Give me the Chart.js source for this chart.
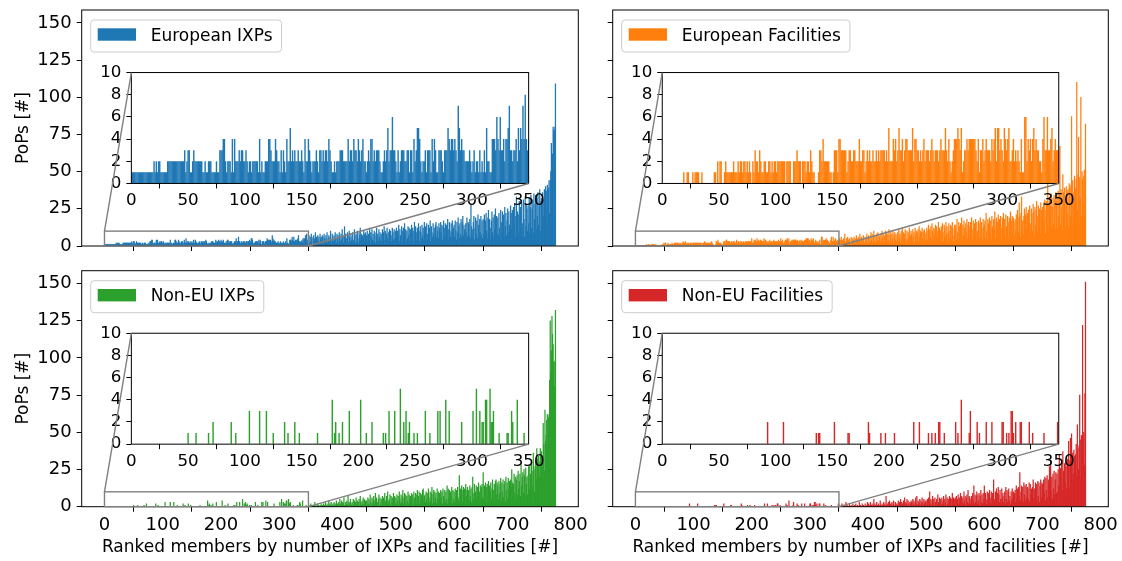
<!DOCTYPE html>
<html>
<head>
<meta charset="utf-8">
<script src="https://cdn.jsdelivr.net/npm/chart.js@4.4.0/dist/chart.umd.min.js"></script>
<style>
  html, body { margin: 0; padding: 0; background: #fff; }
  #wrap { position: relative; width: 1122px; height: 561px; overflow: hidden; }
  #wrap canvas { position: absolute; }
</style>
</head>
<body>
<div id="wrap"></div>
<script>
// ---- data -------------------------------------------------------------
const N_MEMBERS = 775;
const HEAD_LEN = 350;               // part shown in the zoomed inset
const mainXTicks = [0, 100, 200, 300, 400, 500, 600, 700, 800];
const mainYTicks = [0, 25, 50, 75, 100, 125, 150];
const insetXTicks = [0, 50, 100, 150, 200, 250, 300, 350];
const insetYTicks = [0, 2, 4, 6, 8, 10];
const xTitle = 'Ranked members by number of IXPs and facilities [#]';
const yTitle = 'PoPs [#]';

// ranks 0..349, one digit per member, groups of ten
const euIxpHead =
  '1111111111 1111111111 2121221111 1122222222 2222222312 3311232222 2221121122 ' +
  '2111121133 3442122214 1422232332 2321221222 2214121122 2443222432 2131321422 ' +
  '5232322322 3214224321 2223213323 2332432112 1222333222 2423324332 4323422123 ' +
  '2442323332 1123235233 6332131233 3223313314 2355421223 1333142431 1333213335 ' +
  '4344343275 3433222232 1231221312 1315221144 4364363342 4457332334 2535474843';
const euIxpTail = [
  4,7,2,6,3,8,5,1,6,7,3,5,9,2,6,4,7,3,6,2,8,5,6,3,7,
  6,2,8,5,3,7,4,9,2,5,7,3,6,10,4,2,8,6,3,7,4,9,5,2,8,
  5,7,2,9,6,3,8,4,11,6,2,7,13,4,8,5,3,9,7,2,10,6,3,8,4,
  6,9,3,4,11,7,2,8,3,10,5,2,9,7,12,4,8,3,7,5,10,8,2,9,6,
  7,10,3,8,5,12,2,9,6,11,4,8,3,10,7,2,9,12,5,8,3,11,6,9,4,
  8,3,11,6,9,13,4,10,2,8,12,5,9,3,11,6,10,7,3,12,9,4,11,5,10,
  9,12,4,10,6,14,3,11,7,5,13,10,3,12,6,15,8,11,4,10,5,13,7,12,3,
  11,5,14,8,12,3,10,16,6,13,9,4,12,7,15,10,3,13,9,5,14,7,12,4,16,
  10,13,4,15,8,5,14,7,12,17,3,13,9,6,15,8,12,4,14,16,6,13,10,5,15,
  12,5,16,9,14,4,13,17,7,12,15,5,14,8,18,11,4,16,10,6,15,9,17,5,12,
  14,6,17,10,4,16,9,19,13,5,15,8,18,6,16,20,7,14,11,4,15,9,19,6,16,
  15,7,18,5,28,13,6,11,16,20,4,12,19,8,17,5,21,14,6,18,9,20,7,17,5,
  18,8,21,6,17,22,10,5,19,24,7,18,12,4,17,23,9,19,6,21,11,25,5,20,8,
  19,7,22,12,5,24,16,8,23,10,21,6,26,13,22,7,17,25,9,23,14,6,27,11,22,
  24,9,26,14,28,6,20,33,12,23,8,21,30,11,26,7,29,15,10,31,18,6,33,13,28,
  25,10,27,15,32,8,26,34,12,25,31,9,35,18,28,34,11,32,20,36,14,27,38,10,30,
  32,12,36,20,31,38,14,40,25,37,41,16,39,44,22,44,50,69,30,62,80,78,77,80,109
];

const euFacHead =
  '0000000000 0000000001 0011000101 1110010000 0000001102 0220012111 1112111212 ' +
  '2122121210 2132213211 2211221212 2122222220 2222002223 2220222122 1321100013 ' +
  '3242222211 0133314433 3331233223 3222422331 2323223223 2323333232 5222434235 ' +
  '3342344333 3524433232 3423332343 2333234333 5324212344 4543512334 3444444324 ' +
  '1334234333 2434525534 3254345223 4232321411 6624342453 4332214633 6334523433';
const euFacTail = [
  3,5,1,4,6,2,4,1,5,3,8,2,3,5,1,6,4,2,5,3,1,6,2,5,3,
  4,6,2,5,1,7,3,5,2,6,4,8,2,5,6,1,4,7,3,2,6,4,5,8,2,
  5,7,2,6,3,9,4,8,2,6,10,3,7,2,6,8,3,9,4,7,6,2,8,4,10,
  6,8,3,7,2,10,5,9,3,8,4,11,2,7,9,3,8,5,10,2,7,9,4,8,3,
  7,9,3,11,5,8,2,10,6,12,4,9,3,8,11,5,2,10,4,9,6,12,3,7,10,
  8,3,11,6,9,2,12,7,10,4,9,11,3,13,6,10,2,9,12,5,10,3,11,8,4,
  9,12,4,10,14,3,11,6,13,5,15,10,3,12,7,11,14,4,13,6,10,16,3,12,8,
  10,13,4,15,9,3,14,12,6,16,8,13,3,9,15,5,10,14,4,13,16,7,3,12,14,
  11,14,4,18,9,3,16,13,6,15,8,19,4,14,7,17,12,3,15,9,18,5,14,16,6,
  13,16,5,19,11,4,17,8,15,12,18,3,16,10,6,17,15,5,19,9,16,12,4,18,13,
  14,17,5,22,10,4,18,15,7,19,12,17,4,20,13,6,18,11,23,5,17,19,8,16,21,
  15,18,6,20,12,4,19,16,22,8,18,5,21,13,7,20,16,5,19,10,23,6,17,20,9,
  19,16,7,18,10,21,5,24,19,9,29,20,6,22,33,12,17,8,20,25,6,21,26,11,22,
  20,24,7,27,15,8,25,22,10,28,23,6,26,14,24,30,9,20,27,12,25,8,29,24,11,
  26,10,29,18,31,8,24,30,14,42,28,9,33,20,27,35,12,26,32,15,34,31,11,36,30,
  33,12,37,20,35,67,14,38,26,10,48,36,18,39,30,13,40,37,22,38,12,42,39,20,41,
  87,15,44,30,36,47,18,39,45,110,24,48,73,16,46,32,100,20,50,45,28,47,51,22,82
];

// ranks 0..349 are mostly empty: [rank, PoPs]
const nonEuIxpHeadSpikes = [
  [50,1],[57,1],[68,1],[72,2],[88,2],[92,1],[104,3],[113,3],[119,3],[125,1],
  [135,2],[138,1],[144,2],[148,1],[164,1],[177,4],[179,1],[180,2],[183,1],[186,2],
  [192,3],[202,4],[207,1],[212,2],[222,1],[224,1],[227,3],[232,3],[237,5],[240,2],
  [242,3],[244,1],[245,2],[249,1],[252,1],[259,3],[263,1],[270,3],[272,3],[277,4],
  [280,3],[291,2],[301,3],[304,5],[307,3],[309,2],[310,2],[312,4],[313,4],[316,5],
  [317,2],[318,2],[319,3],[324,1],[331,1],[332,1],[335,3],[336,2],[340,4],[346,1]
];
const nonEuIxpTail = [
  0,1,0,0,2,0,1,0,0,1,0,3,0,1,0,0,2,1,0,0,1,0,2,0,1,
  0,2,1,0,3,1,0,2,0,1,4,0,2,1,3,0,1,2,0,3,1,2,0,4,1,
  2,0,3,1,5,2,0,4,1,3,2,6,1,0,3,2,4,1,7,2,3,0,5,2,1,
  3,1,5,0,4,0,3,6,1,4,1,3,5,0,7,3,1,4,2,6,0,5,2,4,1,
  4,1,6,2,5,1,8,3,0,6,2,5,7,1,4,9,2,6,1,3,5,8,0,6,2,
  5,1,7,3,6,2,9,4,1,7,3,10,2,4,5,8,1,7,3,6,2,9,3,7,1,
  6,2,8,4,7,1,10,5,2,8,3,7,11,2,6,9,3,8,1,7,4,10,2,8,5,
  7,2,9,5,8,1,10,6,3,9,2,8,11,4,7,10,2,9,5,8,3,11,12,4,7,
  8,3,10,5,9,2,12,6,3,10,4,9,13,2,8,11,3,10,6,9,2,12,5,10,3,
  9,3,11,6,10,2,12,7,4,11,3,10,5,14,2,12,6,11,3,10,7,13,2,11,5,
  10,3,12,7,11,2,13,6,4,21,3,12,8,14,3,11,13,5,12,2,15,7,11,13,4,
  11,4,14,7,12,3,13,20,5,9,15,3,10,14,6,13,2,16,8,10,14,4,13,15,6,
  23,5,14,9,16,3,13,15,6,17,4,14,10,16,5,12,18,7,11,15,3,17,18,8,16,
  14,5,17,9,15,19,4,16,10,18,6,15,17,3,20,11,16,5,19,12,17,6,18,13,25,
  16,6,15,22,9,20,5,18,21,8,24,12,17,22,7,28,14,20,23,9,25,21,6,26,15,
  20,8,21,27,12,28,22,9,29,24,14,36,27,10,25,31,18,39,32,12,34,30,20,39,35,
  37,18,34,56,42,24,65,44,48,58,62,40,60,62,85,125,90,105,128,116,109,97,81,98,132
];

const nonEuFacHeadSpikes = [
  [93,2],[107,2],[136,1],[138,1],[139,1],[152,2],[164,1],[165,1],[182,2],[183,1],
  [193,1],[197,1],[205,1],[222,2],[227,2],[235,1],[238,1],[241,1],[244,2],[245,2],
  [249,1],[259,2],[261,1],[264,4],[271,1],[272,3],[278,2],[280,1],[286,2],[291,2],
  [300,2],[301,2],[304,1],[306,1],[308,3],[309,3],[310,1],[312,2],[316,2],[317,2],
  [324,2],[327,1],[337,1],[349,2]
];
const nonEuFacTail = [
  0,1,0,0,0,2,0,0,1,0,0,0,3,0,1,0,0,0,2,0,0,1,0,0,2,
  0,0,1,0,2,0,0,1,0,0,3,0,1,0,0,2,0,1,0,0,2,0,0,1,3,
  0,2,1,0,3,0,1,2,0,1,5,0,2,1,0,3,1,0,2,1,0,4,1,0,2,
  1,0,3,1,2,0,7,1,2,0,3,1,4,0,2,1,3,0,2,4,1,0,3,2,1,
  2,1,4,0,3,2,5,1,3,2,0,4,2,6,1,3,2,5,1,4,2,0,3,2,4,
  3,1,5,2,4,1,3,6,2,7,1,4,2,3,5,1,4,2,6,3,1,5,2,4,3,
  4,1,5,2,6,0,10,2,5,1,4,7,2,5,0,6,3,1,5,2,8,3,1,6,2,
  5,1,6,2,4,7,1,5,3,8,0,6,2,5,1,7,3,6,1,5,9,2,6,1,5,
  6,2,7,1,5,8,2,6,3,9,1,7,3,6,2,10,4,7,1,6,8,3,11,2,7,
  6,2,5,7,1,9,4,14,2,8,3,7,10,2,8,4,9,1,7,11,3,8,2,9,5,
  14,3,9,5,2,10,4,9,3,11,6,2,10,4,9,2,18,5,3,10,6,12,2,9,13,
  8,3,11,5,2,12,6,9,3,7,10,2,13,5,11,3,10,12,4,7,2,10,5,12,4,
  10,4,9,11,3,14,6,12,2,13,7,23,4,10,14,5,13,3,16,8,14,4,15,6,13,
  12,5,16,3,15,8,12,4,13,18,6,12,3,16,9,15,4,17,7,16,3,14,18,6,16,
  15,5,18,9,20,4,19,11,21,6,18,16,27,7,31,10,20,5,22,12,24,8,18,23,9,
  22,10,25,14,35,8,26,18,28,11,37,24,9,29,16,30,12,27,32,15,44,31,13,46,20,
  49,18,36,22,38,34,15,35,42,20,55,39,25,41,75,45,19,48,30,122,47,50,28,76,151
];

// ---- helpers ------------------------------------------------------------
const fromDigits = s => s.replace(/\s/g, '').split('').map(Number);
function fromSpikes(list) {
  const a = new Array(HEAD_LEN).fill(0);
  list.forEach(([i, v]) => { a[i] = v; });
  return a;
}
function series(name, head, tail) {
  const all = head.concat(tail);
  if (all.length !== N_MEMBERS) throw new Error(name + ' has ' + all.length + ' values');
  return all.map((v, i) => ({ x: i, y: v }));
}

const panels = [
  { label: 'European IXPs',       color: '#1f77b4', col: 'left',  row: 'top',
    data: series('euIxp', fromDigits(euIxpHead), euIxpTail) },
  { label: 'European Facilities', color: '#ff7f0e', col: 'right', row: 'top',
    data: series('euFac', fromDigits(euFacHead), euFacTail) },
  { label: 'Non-EU IXPs',         color: '#2ca02c', col: 'left',  row: 'bottom',
    data: series('nonEuIxp', fromSpikes(nonEuIxpHeadSpikes), nonEuIxpTail) },
  { label: 'Non-EU Facilities',   color: '#d62728', col: 'right', row: 'bottom',
    data: series('nonEuFac', fromSpikes(nonEuFacHeadSpikes), nonEuFacTail) }
];

// ---- layout (page pixels) ----------------------------------------------
const W = 1122, H = 561;
const M = 40;   // every canvas overhangs the page by M so label overflow never moves the plot area
const CW = W + 2 * M, CH = H + 2 * M;
const PANEL_X = { left: [81.7, 578.3], right: [612.7, 1108.3] };
const PANEL_Y = { top: [10, 246], bottom: [270.7, 506.7] };
const INSET = { x0: 0.1, x1: 0.9, y0: 0.265, y1: 0.735 };   // axes fractions

Chart.defaults.font.family = "'DejaVu Sans', sans-serif";
Chart.defaults.color = '#000';

function fixedTicks(list) {
  return axis => { axis.ticks = list.map(v => ({ value: v })); };
}

const frameAndLegend = {
  id: 'frameAndLegend',
  afterDraw(chart) {
    const { ctx, chartArea: a } = chart;
    const ds = chart.data.datasets[0];
    ctx.save();
    ctx.strokeStyle = '#000';
    ctx.lineWidth = 1;
    ctx.strokeRect(a.left, a.top, a.right - a.left, a.bottom - a.top);

    ctx.font = "17px 'DejaVu Sans'";
    const tw = ctx.measureText(ds.label).width;
    const x = a.left + 9, y = a.top + 10, w = 60 + tw + 9, h = 32;
    ctx.beginPath();
    ctx.roundRect(x, y, w, h, 3.5);
    ctx.fillStyle = 'rgba(255,255,255,0.8)';
    ctx.fill();
    ctx.strokeStyle = '#cccccc';
    ctx.stroke();
    ctx.fillStyle = ds.backgroundColor;
    ctx.fillRect(x + 7, y + 8.3, 38.3, 12.4);
    ctx.fillStyle = '#000';
    ctx.textBaseline = 'alphabetic';
    ctx.fillText(ds.label, x + 60, y + 20.7);
    ctx.restore();
  }
};

function insetDecor(main) {
  return {
    id: 'insetDecor',
    beforeDraw(chart) {
      const { ctx, chartArea: a } = chart;
      ctx.save();
      ctx.fillStyle = '#fff';
      ctx.fillRect(a.left, a.top, a.right - a.left, a.bottom - a.top);
      ctx.restore();
    },
    afterDraw(chart) {
      const { ctx, chartArea: a } = chart;
      const mx = main.scales.x, my = main.scales.y;
      const rx0 = mx.getPixelForValue(0), rx1 = mx.getPixelForValue(HEAD_LEN);
      const ry0 = my.getPixelForValue(0), ry1 = my.getPixelForValue(10);
      ctx.save();
      ctx.strokeStyle = '#000';
      ctx.lineWidth = 1;
      ctx.strokeRect(a.left, a.top, a.right - a.left, a.bottom - a.top);
      ctx.strokeStyle = '#808080';
      ctx.lineWidth = 1.4;
      ctx.strokeRect(rx0, ry1, rx1 - rx0, ry0 - ry1);
      ctx.beginPath();
      ctx.moveTo(rx0, ry1); ctx.lineTo(a.left, a.top);
      ctx.moveTo(rx1, ry0); ctx.lineTo(a.right, a.bottom);
      ctx.stroke();
      ctx.restore();
    }
  };
}

function newCanvas() {
  const c = document.createElement('canvas');
  c.width = CW; c.height = CH;
  c.style.width = CW + 'px'; c.style.height = CH + 'px';
  c.style.left = -M + 'px'; c.style.top = -M + 'px';
  document.getElementById('wrap').appendChild(c);
  return c;
}

// padding that puts the plot area at page rect [L,R]x[T,B]
function padFor(L, R, T, B, yW, xH) {
  return { left: L + M - yW, right: CW - (R + M), top: T + M, bottom: CH - (B + M) - xH };
}

function makeMain(p) {
  const [L, R] = PANEL_X[p.col], [T, B] = PANEL_Y[p.row];
  const isLeft = p.col === 'left', isBottom = p.row === 'bottom';
  const yW = isLeft ? L - 13.2 : 40;
  const xH = isBottom ? 50.6 : 10;
  return new Chart(newCanvas(), {
    type: 'bar',
    data: {
      datasets: [{
        label: p.label, data: p.data, backgroundColor: p.color,
        borderWidth: 0, barPercentage: 1, categoryPercentage: 1
      }]
    },
    options: {
      responsive: false, animation: false, devicePixelRatio: 1, events: [],
      layout: { autoPadding: false, padding: padFor(L, R, T, B, yW, xH) },
      plugins: { legend: { display: false }, tooltip: { enabled: false } },
      scales: {
        x: {
          type: 'linear', min: -39.1, max: 813.2, offset: false, bounds: 'data',
          afterBuildTicks: fixedTicks(mainXTicks),
          afterFit: s => { s.height = xH; },
          border: { display: false },
          grid: { drawOnChartArea: false, tickLength: 5, tickColor: '#000', tickWidth: 1 },
          ticks: { callback: v => isBottom ? String(v) : '', padding: 3, font: { size: 18 },
                   maxRotation: 0, autoSkip: false },
          title: { display: isBottom, text: xTitle, padding: 0, font: { size: 17 } }
        },
        y: {
          type: 'linear', min: 0, max: 158.7, bounds: 'data',
          afterBuildTicks: fixedTicks(mainYTicks),
          afterFit: s => { s.width = yW; },
          border: { display: false },
          grid: { drawOnChartArea: false, tickLength: 5, tickColor: '#000', tickWidth: 1 },
          ticks: { callback: v => isLeft ? String(v) : '', padding: 5, font: { size: 18 },
                   autoSkip: false },
          title: { display: isLeft, text: yTitle, padding: 0, font: { size: 17 } }
        }
      }
    },
    plugins: [frameAndLegend]
  });
}

function makeInset(p, main) {
  const [L, R] = PANEL_X[p.col], [T, B] = PANEL_Y[p.row];
  const pw = R - L, ph = B - T;
  const iL = L + INSET.x0 * pw, iR = L + INSET.x1 * pw;
  const iT = B - INSET.y1 * ph, iB = B - INSET.y0 * ph;
  const yW = 40, xH = 30;
  return new Chart(newCanvas(), {
    type: 'bar',
    data: {
      datasets: [{
        label: p.label, data: p.data, backgroundColor: p.color,
        borderWidth: 0, barPercentage: 1.25, categoryPercentage: 1
      }]
    },
    options: {
      responsive: false, animation: false, devicePixelRatio: 1, events: [],
      layout: { autoPadding: false, padding: padFor(iL, iR, iT, iB, yW, xH) },
      plugins: { legend: { display: false }, tooltip: { enabled: false } },
      scales: {
        x: {
          type: 'linear', min: 0, max: HEAD_LEN, offset: false, bounds: 'data',
          afterBuildTicks: fixedTicks(insetXTicks),
          afterFit: s => { s.height = xH; },
          border: { display: false },
          grid: { drawOnChartArea: false, tickLength: 5, tickColor: '#000', tickWidth: 1 },
          ticks: { padding: 2, font: { size: 16.7 }, maxRotation: 0, autoSkip: false }
        },
        y: {
          type: 'linear', min: 0, max: 10, bounds: 'data',
          afterBuildTicks: fixedTicks(insetYTicks),
          afterFit: s => { s.width = yW; },
          border: { display: false },
          grid: { drawOnChartArea: false, tickLength: 5, tickColor: '#000', tickWidth: 1 },
          ticks: { padding: 5, font: { size: 16.7 }, autoSkip: false }
        }
      }
    },
    plugins: [insetDecor(main)]
  });
}

panels.forEach(p => {
  const main = makeMain(p);
  makeInset(p, main);
});
</script>
</body>
</html>
